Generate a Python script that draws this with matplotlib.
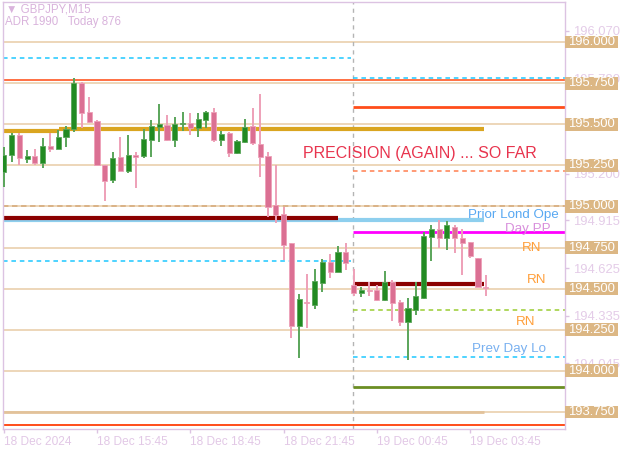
import matplotlib
matplotlib.use("Agg")
import matplotlib.pyplot as plt
import matplotlib.transforms as mtransforms
from matplotlib.patches import Rectangle

plt.rcParams['font.family'] = ['Liberation Sans', 'DejaVu Sans']

# ---------------- data ----------------
opens = [195.212, 195.314, 195.436, 195.289, 195.308, 195.265, 195.369, 195.350, 195.423, 195.472,
         195.752, 195.576, 195.521, 195.253, 195.161, 195.302, 195.216, 195.314, 195.308, 195.405,
         195.484, 195.496, 195.405, 195.503, 195.509, 195.478, 195.527, 195.576, 195.405, 195.448,
         195.326, 195.393, 195.490, 195.381, 195.308, 195.009, 194.954, 194.778, 194.272, 194.418,
         194.400, 194.534, 194.662, 194.601, 194.723, 194.522, 194.473, 194.491, 194.491, 194.431,
         194.540, 194.418, 194.297, 194.370, 194.443, 194.814, 194.863, 194.808, 194.875, 194.808,
         194.784, 194.686, 194.510]
highs = [195.362, 195.448, 195.448, 195.344, 195.350, 195.417, 195.448, 195.466, 195.490, 195.783,
         195.758, 195.667, 195.527, 195.253, 195.332, 195.423, 195.436, 195.332, 195.472, 195.527,
         195.624, 195.557, 195.545, 195.576, 195.569, 195.569, 195.582, 195.600, 195.460, 195.454,
         195.405, 195.533, 195.600, 195.685, 195.329, 195.253, 194.997, 194.778, 194.467, 194.589,
         194.619, 194.680, 194.711, 194.759, 194.778, 194.619, 194.510, 194.540, 194.522, 194.607,
         194.552, 194.431, 194.443, 194.540, 194.845, 194.887, 194.918, 194.912, 194.887, 194.863,
         194.784, 194.686, 194.583]
lows = [195.119, 195.271, 195.253, 195.265, 195.253, 195.234, 195.332, 195.347, 195.362, 195.454,
        195.478, 195.509, 195.250, 195.033, 195.143, 195.213, 195.204, 195.113, 195.295, 195.302,
        195.393, 195.399, 195.362, 195.460, 195.436, 195.423, 195.478, 195.393, 195.369, 195.302,
        195.320, 195.387, 195.375, 195.180, 194.936, 194.900, 194.674, 194.199, 194.077, 194.260,
        194.376, 194.479, 194.565, 194.598, 194.613, 194.455, 194.449, 194.455, 194.424, 194.424,
        194.303, 194.272, 194.065, 194.339, 194.437, 194.668, 194.747, 194.735, 194.717, 194.583,
        194.686, 194.507, 194.455]
closes = [195.314, 195.436, 195.295, 195.308, 195.265, 195.369, 195.350, 195.423, 195.472, 195.752,
          195.569, 195.515, 195.253, 195.155, 195.295, 195.216, 195.314, 195.302, 195.411, 195.490,
          195.503, 195.405, 195.503, 195.509, 195.478, 195.533, 195.576, 195.405, 195.442, 195.326,
          195.399, 195.484, 195.387, 195.302, 194.997, 194.948, 194.766, 194.272, 194.437, 194.412,
          194.546, 194.662, 194.601, 194.723, 194.656, 194.473, 194.491, 194.487, 194.431, 194.543,
          194.412, 194.297, 194.382, 194.455, 194.820, 194.863, 194.808, 194.887, 194.808, 194.778,
          194.698, 194.510, 194.504]

tick_labels = ['18 Dec 2024', '18 Dec 15:45', '18 Dec 18:45', '18 Dec 21:45', '19 Dec 00:45', '19 Dec 03:45']
tick_bars = [0, 12, 24, 36, 48, 60]

round_levels = [196.000, 195.750, 195.500, 195.250, 195.000, 194.750, 194.500, 194.250, 194.000, 193.750]
info_levels = [196.070, 195.780, 195.200, 194.915, 194.625, 194.335, 194.045]

prev_prev_high = 195.903
prev_high = 195.780
upper_red_full = 195.770
upper_red_today = 195.606
gold_level_a = 195.457
gold_level_b = 195.472
orange_dash_level = 195.218
dotted_tan_level = 195.005
maroon_level_a = 194.927
lond_open_level = 194.915
day_pp = 194.845
prev_prev_low = 194.666
maroon_level_b = 194.526
green_dash_level = 194.368
prev_low = 194.083
olive_level = 193.903
bottom_red_level = 193.669

title_line1 = '\u25bc GBPJPY,M15'
title_line2 = 'ADR 1990   Today 876'
headline = 'PRECISION (AGAIN) ... SO FAR'

# ---------------- figure ----------------
W, H = 625, 451
fig = plt.figure(figsize=(W / 100, H / 100), dpi=100)
fig.patch.set_facecolor('white')
L, R, T, B = 3, 565, 2, 429
ax = fig.add_axes([L / W, 1 - B / H, (R - L) / W, (B - T) / H])
ax.set_facecolor('white')

xmin, xmax = -0.1, 72.2
ymin, ymax = 193.645, 196.245
ax.set_xlim(xmin, xmax)
ax.set_ylim(ymin, ymax)

sep = 44.9
seg_end = 61.8
maroon_end = 43.0
cyan_end = 44.7

tan = '#ecd3b3'
tan_dark = '#e2c29a'

# full width thin tan round-number lines
for lv in round_levels:
    ax.axhline(lv, color=tan, lw=1.3, zorder=1)
ax.hlines(193.750, xmin, seg_end, color=tan_dark, lw=2, zorder=1)

# other levels
ax.hlines(prev_prev_high, xmin, cyan_end, color='#1ec8ff', lw=1.1, linestyle=(0, (3, 2.5)), zorder=2)
ax.hlines(prev_high, sep, xmax, color='#1ec8ff', lw=1.1, linestyle=(0, (3, 2.5)), zorder=2)
ax.axhline(upper_red_full, color='#ff7043', lw=1.4, zorder=2)
ax.hlines(upper_red_today, sep, xmax, color='#ff4d1a', lw=2, zorder=2)
ax.hlines(gold_level_a, xmin, 7.1, color='#daa520', lw=3, zorder=2)
ax.hlines(gold_level_b, 7.1, seg_end, color='#daa520', lw=3, zorder=2)
ax.hlines(orange_dash_level, sep, xmax, color='#ff7f50', lw=1.1, linestyle=(0, (3, 2.5)), zorder=2)
ax.axhline(dotted_tan_level, color='#d8b083', lw=1.3, linestyle=(0, (3, 2)), zorder=2)
ax.hlines(lond_open_level, xmin, seg_end, color='#8ecfee', lw=3, zorder=2)
ax.hlines(maroon_level_a, xmin, maroon_end, color='#8b0000', lw=3, zorder=2)
ax.hlines(day_pp, sep, xmax, color='#ff00ff', lw=2, zorder=2)
ax.hlines(prev_prev_low, xmin, cyan_end, color='#1ec8ff', lw=1.1, linestyle=(0, (3, 2.5)), zorder=2)
ax.hlines(maroon_level_b, sep, seg_end, color='#8b0000', lw=3, zorder=2)
ax.hlines(green_dash_level, sep, xmax, color='#9acd32', lw=1.1, linestyle=(0, (3, 2.5)), zorder=2)
ax.hlines(prev_low, sep, xmax, color='#1ec8ff', lw=1.1, linestyle=(0, (3, 2.5)), zorder=2)
ax.hlines(olive_level, sep, xmax, color='#6b8e23', lw=2, zorder=2)
ax.axhline(bottom_red_level, color='#ff4d1a', lw=1.4, zorder=2)

# day separator
ax.axvline(sep, color='#b4b4b4', lw=1, linestyle=(0, (3, 3)), zorder=1.5)

# ---------------- candles ----------------
up_c, dn_c = '#228b22', '#db7093'
up_w, dn_w = '#5aa55a', '#eea0b8'
for i, (o, h, l, c) in enumerate(zip(opens, highs, lows, closes)):
    up = c >= o
    ax.vlines(i, l, h, color=up_w if up else dn_w, lw=1.4, zorder=3)
    bottom = min(o, c)
    height = max(abs(c - o), 0.006)
    ax.bar(i, height, bottom=bottom, width=0.66, color=up_c if up else dn_c,
           edgecolor=up_w if up else dn_w, linewidth=0.6, zorder=4)

# ---------------- texts on chart ----------------
ax.text(38.5, 195.322, headline, color='#e8344e', fontsize=11.5, ha='left', va='center', zorder=5)
ax.text(71.4, 194.947, 'Prior Lond Ope', color='#58a8f2', fontsize=9.6, ha='right', va='center', zorder=5)
ax.text(70.4, 194.862, 'Day PP', color='#d88fdc', fontsize=9.6, ha='right', va='center', zorder=5)
ax.text(69.2, 194.750, 'RN', color='#ff9f3a', fontsize=9.6, ha='right', va='center', zorder=5)
ax.text(69.8, 194.552, 'RN', color='#ff9f3a', fontsize=9.6, ha='right', va='center', zorder=5)
ax.text(68.4, 194.294, 'RN', color='#ff9f3a', fontsize=9.6, ha='right', va='center', zorder=5)
ax.text(69.8, 194.130, 'Prev Day Lo', color='#78b0f0', fontsize=9.6, ha='right', va='center', zorder=5)

fig.text(6 / W, 1 - 9 / H, title_line1, color='#d9b3dc', fontsize=8.3, ha='left', va='center')
fig.text(5 / W, 1 - 22 / H, title_line2, color='#d9b3dc', fontsize=8.3, ha='left', va='center')

# ---------------- axes styling ----------------
frame_c = '#dcc3e2'
for s in ax.spines.values():
    s.set_color(frame_c)
    s.set_linewidth(1)

ax.set_xticks(tick_bars)
ax.set_xticklabels(tick_labels)
ax.tick_params(axis='x', colors=frame_c, length=3, width=1, labelcolor='#e2c8e6',
               labelsize=8.6, pad=2)
for t in ax.get_xticklabels():
    t.set_ha('left')

ax.yaxis.tick_right()
ax.set_yticks(info_levels)
ax.set_yticklabels([f'{v:.3f}' for v in info_levels])
ax.tick_params(axis='y', colors=frame_c, length=3, width=1, labelcolor='#e4cce8',
               labelsize=9.4, pad=3)

# price boxes for round levels
trans = mtransforms.blended_transform_factory(ax.transAxes, ax.transData)
bw = 53 / (R - L)
bh = 12.5 / ((B - T) / (ymax - ymin))
for lv in round_levels:
    ax.add_patch(Rectangle((1.0, lv - bh / 2), bw, bh, transform=trans, facecolor='#dcb784',
                           edgecolor='none', clip_on=False, zorder=6))
    ax.text(1.0 + bw / 2, lv, f'{lv:.3f}', transform=trans, color='white', fontsize=9.4,
            ha='center', va='center', clip_on=False, zorder=7)

fig.savefig('out.png', dpi=100, facecolor='white')
